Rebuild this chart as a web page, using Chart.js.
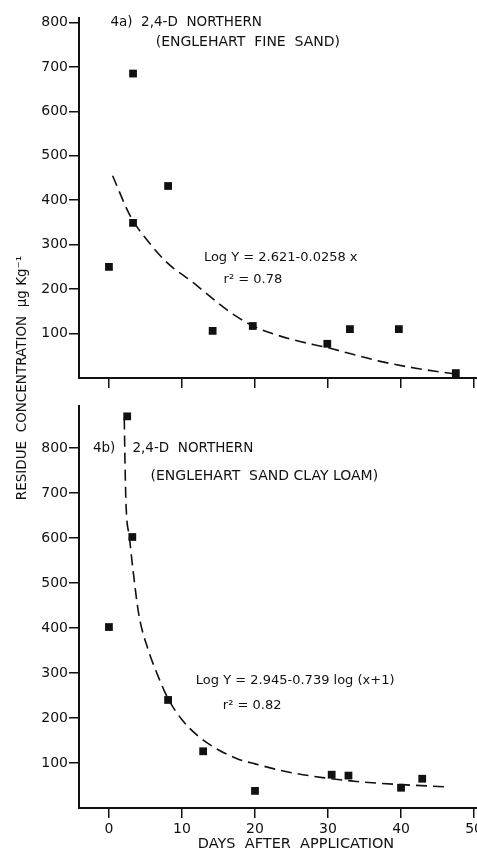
<!DOCTYPE html>
<html>
<head>
<meta charset="utf-8">
<script src="https://cdn.jsdelivr.net/npm/chart.js@4.4.1/dist/chart.umd.min.js"></script>
<style>
  html, body { margin: 0; padding: 0; background: #fff; }
  #wrap { position: relative; width: 477px; height: 852px; overflow: hidden; }
  #wrap canvas { position: absolute; left: 0; top: 0; }
</style>
</head>
<body>
<div id="wrap">
  <canvas id="topChart" width="477" height="852"></canvas>
  <canvas id="bottomChart" width="477" height="852"></canvas>
</div>
<script>
// -------------  DATA  -------------
// 4a) Englehart fine sand
const topDays     = [0, 3.3, 3.3, 8.1, 14.2, 19.7, 29.9, 33, 39.7, 47.5];
const topResidue  = [250, 685, 349, 432, 106, 117, 77, 110, 110, 11];
// dashed fit
const topFitDays    = [0.5, 3, 5, 8, 11.5, 15, 17.5, 20, 25, 30, 33, 37, 42, 47.8];
const topFitResidue = [455, 362, 315, 259, 215, 168, 138, 115, 87, 68, 55, 38, 22, 8];

// 4b) Englehart sand clay loam
const bottomDays    = [0, 2.5, 3.2, 8.1, 12.9, 20, 30.5, 32.8, 40, 42.9];
const bottomResidue = [402, 870, 602, 240, 126, 38, 74, 72, 45, 65];
const bottomFitDays    = [2.1, 2.2, 2.35, 2.8, 3.3, 4.1, 5.3, 6.7, 8.1, 9.9, 12.2, 14.9, 17.8, 20, 24.5, 29.5, 34.5, 40, 46.2];
const bottomFitResidue = [865, 766, 670, 602, 528, 429, 355, 294, 243, 198, 160, 130, 108, 98, 80, 67, 58, 52, 47];

// ticks
const xTicks = [0, 10, 20, 30, 40, 50];
const yTicks = [100, 200, 300, 400, 500, 600, 700, 800];
//============================================================================

const INK = '#111';
const FONT = '"DejaVu Sans", sans-serif';

function toPoints(xs, ys) {
    return xs.map((x, i) => ({ x: x, y: ys[i] }));
}

// draws the lettering that sits inside each panel
const panelText = {
    id: 'panelText',
    afterDraw(chart, args, opts) {
        const { ctx, scales: { x, y } } = chart;
        ctx.save();
        ctx.fillStyle = INK;
        ctx.textBaseline = 'middle';
        (opts.notes || []).forEach(n => {
            ctx.font = n.font;
            ctx.textAlign = 'left';
            ctx.fillText(n.text, x.getPixelForValue(n.day), y.getPixelForValue(n.value));
        });
        (opts.free || []).forEach(n => {
            ctx.save();
            ctx.font = n.font;
            ctx.textAlign = 'center';
            ctx.translate(n.px, n.py);
            ctx.rotate(n.rot || 0);
            ctx.fillText(n.text, 0, 0);
            ctx.restore();
        });
        ctx.restore();
    }
};

function makeScales(yMax, xHeight, showXLabels) {
    return {
        x: {
            type: 'linear',
            min: -4.1,
            max: 50.4,
            afterBuildTicks: s => { s.ticks = xTicks.map(v => ({ value: v })); },
            afterFit: s => {
                s.height = xHeight;
                s.paddingLeft = 0;     // let the "50" run off the edge like the scan
                s.paddingRight = 0;
            },
            ticks: {
                display: showXLabels,
                color: INK,
                padding: 3,
                font: { family: FONT, size: 14 }
            },
            grid: { drawOnChartArea: false, drawTicks: true, tickLength: 10, color: INK, lineWidth: 1.5 },
            border: { display: true, color: INK, width: 2 }
        },
        y: {
            type: 'linear',
            min: 0,
            max: yMax,
            afterBuildTicks: s => { s.ticks = yTicks.map(v => ({ value: v })); },
            afterFit: s => {
                s.width = 79;
                s.paddingTop = 0;
                s.paddingBottom = 0;
            },
            ticks: {
                color: INK,
                padding: 1,
                font: { family: FONT, size: 14 }
            },
            grid: { drawOnChartArea: false, drawTicks: true, tickLength: 10, color: INK, lineWidth: 1.5 },
            border: { display: true, color: INK, width: 2 }
        }
    };
}

function makeDatasets(days, residue, fitDays, fitResidue) {
    return [
        {
            label: 'measured',
            data: toPoints(days, residue),
            pointStyle: 'rect',
            pointRadius: 5.5,
            backgroundColor: INK,
            borderColor: INK,
            borderWidth: 0,
            showLine: false
        },
        {
            label: 'fit',
            data: toPoints(fitDays, fitResidue),
            showLine: true,
            pointRadius: 0,
            borderColor: INK,
            borderWidth: 1.6,
            borderDash: [11, 6],
            cubicInterpolationMode: 'monotone',
            fill: false
        }
    ];
}

function baseOptions(padding, scales, text) {
    return {
        responsive: false,
        animation: false,
        devicePixelRatio: 1,
        layout: { padding: padding, autoPadding: false },
        scales: scales,
        plugins: {
            legend: { display: false },
            tooltip: { enabled: false },
            panelText: text
        }
    };
}

// ---------- top panel ----------
new Chart(document.getElementById('topChart'), {
    type: 'scatter',
    data: { datasets: makeDatasets(topDays, topResidue, topFitDays, topFitResidue) },
    plugins: [panelText],
    options: baseOptions(
        { top: 18, bottom: 452, left: 0, right: 0 },
        makeScales(810, 22, false),
        {
            notes: [
                { text: '4a)  2,4-D  NORTHERN', day: 0.2, value: 800, font: '13.5px ' + FONT },
                { text: '(ENGLEHART  FINE  SAND)', day: 6.4, value: 755, font: '14px ' + FONT },
                { text: 'Log Y = 2.621-0.0258 x', day: 13.0, value: 270, font: '13px ' + FONT },
                { text: 'r² = 0.78', day: 15.7, value: 221, font: '13px ' + FONT }
            ],
            free: [
                { text: 'RESIDUE  CONCENTRATION  μg Kg⁻¹', px: 22, py: 378, rot: -Math.PI / 2, font: '13.5px ' + FONT }
            ]
        }
    )
});

// ---------- bottom panel ----------
new Chart(document.getElementById('bottomChart'), {
    type: 'scatter',
    data: { datasets: makeDatasets(bottomDays, bottomResidue, bottomFitDays, bottomFitResidue) },
    plugins: [panelText],
    options: baseOptions(
        { top: 406, bottom: 0, left: 0, right: 0 },
        makeScales(893, 44, true),
        {
            notes: [
                { text: '4b)    2,4-D  NORTHERN', day: -2.2, value: 798, font: '13.5px ' + FONT },
                { text: '(ENGLEHART  SAND CLAY LOAM)', day: 5.7, value: 736, font: '14px ' + FONT },
                { text: 'Log Y = 2.945-0.739 log (x+1)', day: 11.9, value: 282, font: '13px ' + FONT },
                { text: 'r² = 0.82', day: 15.6, value: 227, font: '13px ' + FONT }
            ],
            free: [
                { text: 'DAYS  AFTER  APPLICATION', px: 296, py: 844, font: '14.5px ' + FONT }
            ]
        }
    )
});
</script>
</body>
</html>
